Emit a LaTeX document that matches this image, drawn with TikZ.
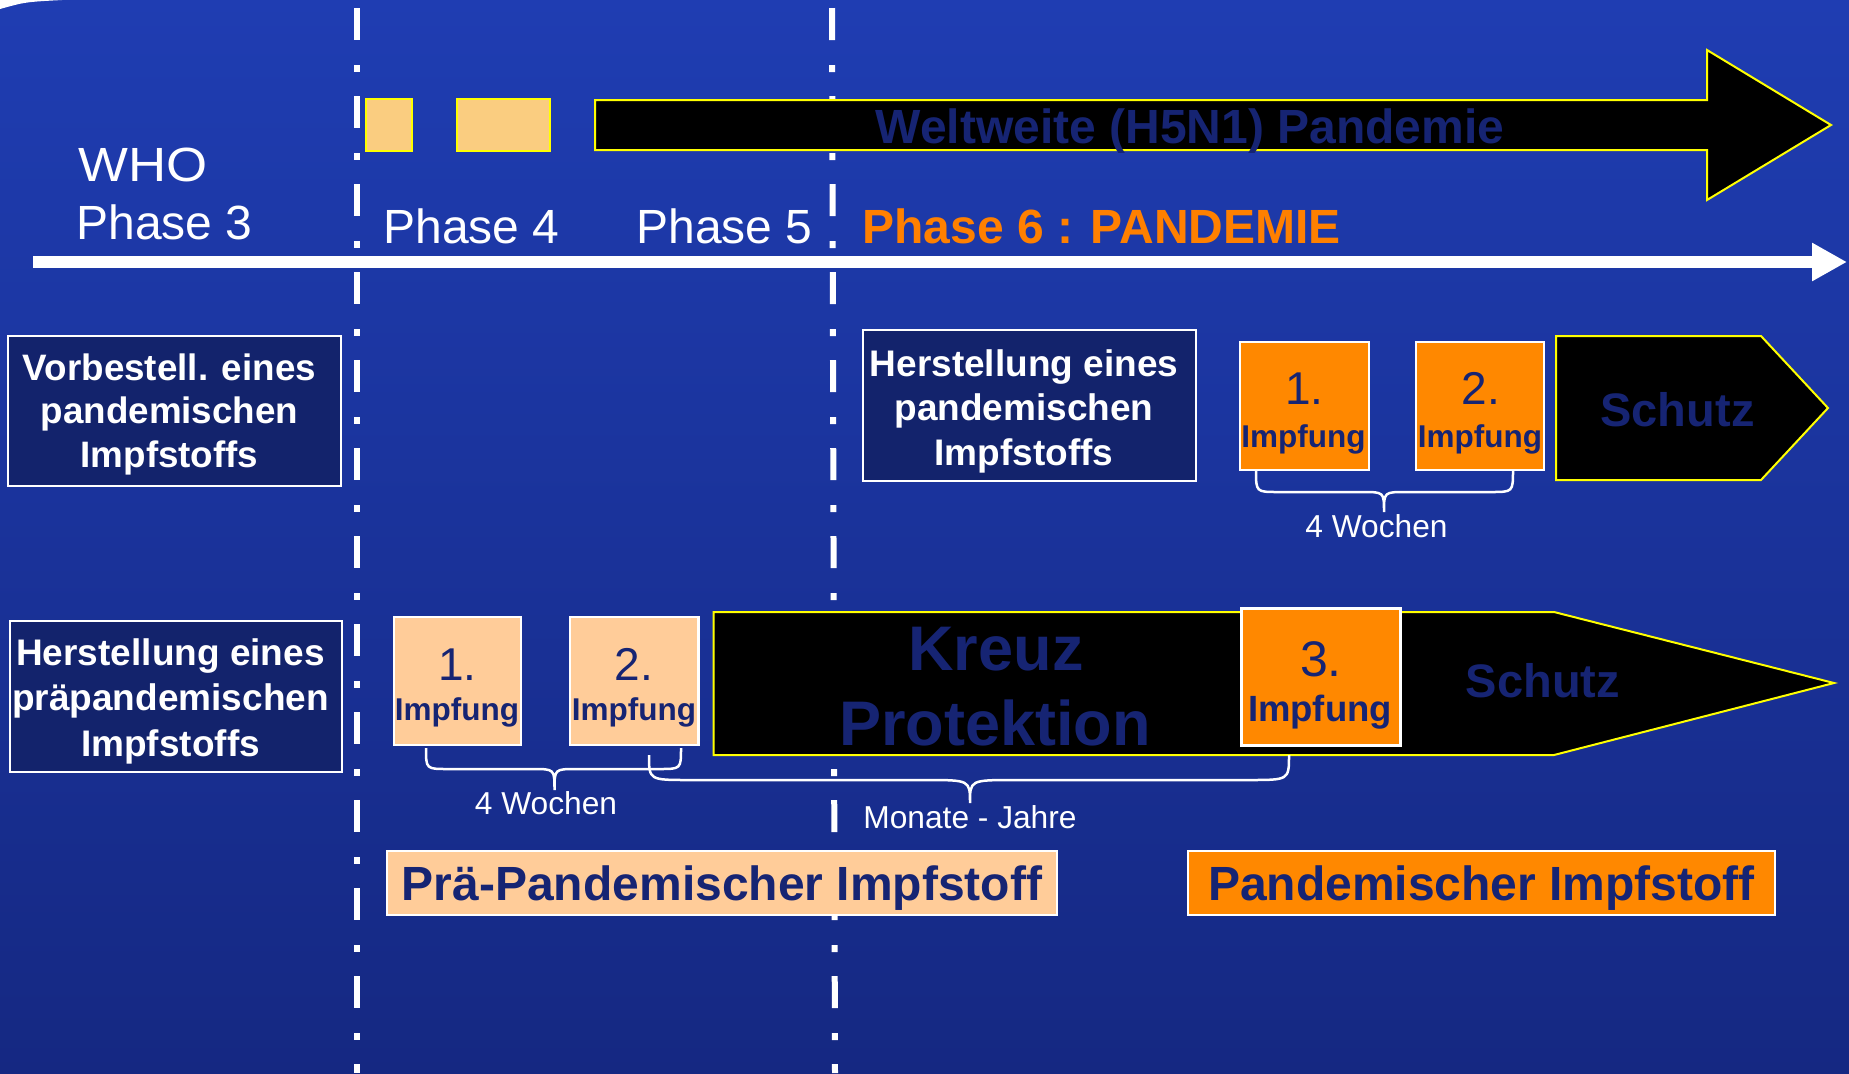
\documentclass[tikz,border=0pt]{standalone}
\usepackage{fontspec}
\setmainfont{Liberation Sans}
\usetikzlibrary{arrows.meta}

\definecolor{bgtop}{RGB}{31,61,178}
\definecolor{bgbot}{RGB}{21,40,130}
\definecolor{navybox}{RGB}{19,35,108}
\definecolor{navytext}{RGB}{22,36,115}
\definecolor{orng}{RGB}{255,136,0}
\definecolor{peach}{RGB}{255,204,153}
\definecolor{sand}{RGB}{250,205,128}
\definecolor{ylw}{RGB}{255,255,0}
\definecolor{phasesix}{RGB}{255,128,0}

\newcommand\fs[2]{\fontsize{#1}{#2}\selectfont}
% brace: L R top h tipx tipy rcorner rmiddle
\newcommand\brc[8]{%
  \draw[bracestyle] (#1,#3) .. controls (#1,#4) .. (#1+#7,#4) -- (#5-#8,#4)
    .. controls (#5,#4) .. (#5,#6) .. controls (#5,#4) .. (#5+#8,#4)
    -- (#2-#7,#4) .. controls (#2,#4) .. (#2,#3);}

\begin{document}
\begin{tikzpicture}[x=0.5pt,y=-0.5pt,
  dashline/.style={white, line width=3pt, dash pattern=on 16pt off 12.5pt on 3.5pt off 12pt},
  navy/.style={draw=white, line width=1pt, fill=navybox, inner sep=0pt},
  navytxt/.style={text=white, align=center, inner sep=0pt},
  orbox/.style={draw=white, line width=1.25pt, fill=orng, inner sep=0pt},
  pebox/.style={draw=white, line width=1.25pt, fill=peach, inner sep=0pt},
  sandbox/.style={draw=ylw, line width=1pt, fill=sand, inner sep=0pt},
  blackarrow/.style={draw=ylw, line width=1pt, fill=black, line join=miter},
  bracestyle/.style={white, line width=1.25pt},
  lbl/.style={inner sep=0pt, anchor=base},
  lblw/.style={inner sep=0pt, anchor=base west},
  numfont/.style={text=navytext, font=\fs{23}{26}},
  impf/.style={text=navytext, font=\bfseries\fs{15.75}{18}},
  big/.style={text=navytext, font=\bfseries\fs{24}{28}},
  wlabel/.style={text=white, font=\fs{15.85}{18}},
  bottombox/.style={draw=white, line width=1.25pt, inner sep=0pt, minimum height=32pt,
    text=navytext, font=\bfseries\fs{24}{28}, text height=18pt, text depth=1pt}
]
\useasboundingbox (0,0) rectangle (1849,1073);
\shade[top color=bgtop, bottom color=bgbot] (0,0) rectangle (1849,1073);
\fill[white] (0,0) -- (62,0) .. controls (25,2) .. (0,9) -- cycle;

% phase separators
\coordinate (d1a) at (357,8);
\coordinate (d1b) at (357,1073);
\coordinate (d2a) at (832,8);
\coordinate (d2b) at (835,1073);
\draw[dashline] (d1a) -- (d1b);
\draw[dashline] (d2a) -- (d2b);

% time axis
\coordinate (axL) at (33,262);
\coordinate (axR) at (1847,262);
\draw[white, line width=6pt, -{Triangle[length=17.5pt,width=18pt]}] (axL) -- (axR);

% phase labels
\node[lblw, text=white, font=\fs{24}{28}] (who) at (78,181) {\scalebox{1.1}[1]{WHO}};
\node[lblw, text=white, font=\fs{24}{28}] (ph3) at (76,239) {Phase 3};
\node[lblw, text=white, font=\fs{24}{28}] (ph4) at (383,243) {Phase 4};
\node[lblw, text=white, font=\fs{24}{28}] (ph5) at (636,243) {Phase 5};
\node[lblw, text=phasesix, font=\bfseries\fs{24}{28}] (ph6) at (862,243) {Phase 6 : PANDEMIE};

% top pandemic arrow
\node[sandbox, minimum width=23pt, minimum height=26pt] (s1) at (389,125) {};
\node[sandbox, minimum width=46.5pt, minimum height=26pt] (s2) at (503.5,125) {};
\draw[blackarrow] (595,100) -- (1707,100) -- (1707,50) -- (1831,125) -- (1707,200)
  -- (1707,150) -- (595,150) -- cycle;
\node[lbl, big] (welt) at (1190,143) {Weltweite (H5N1) Pandemie};

% left boxes
\node[navy, minimum width=166.5pt, minimum height=75pt] (vorb) at (174.5,411) {};
\node[navytxt, font=\bfseries\fs{18.4}{21.75}] (vorbt) at (169.5,414)
  {Vorbestell. eines\\pandemischen\\Impfstoffs};
\node[navy, minimum width=166pt, minimum height=75.5pt] (herpre) at (176,696.5) {};
\node[navytxt, font=\bfseries\fs{18.5}{22.75}] (herpret) at (170.5,701)
  {Herstellung eines\\präpandemischen\\Impfstoffs};

% upper row (pandemic vaccine)
\node[navy, minimum width=166.5pt, minimum height=75.5pt] (herpan) at (1029.5,405.5) {};
\node[navytxt, font=\bfseries\fs{18.5}{22.25}] (herpant) at (1024,411)
  {Herstellung eines\\pandemischen\\Impfstoffs};
\node[orbox, minimum width=64.5pt, minimum height=64pt] (o1) at (1304.5,406) {};
\node[orbox, minimum width=64pt, minimum height=64pt] (o2) at (1480,406) {};
\node[lbl, numfont] (o1n) at (1304.5,404) {1.};
\node[lbl, impf] (o1i) at (1303.5,447) {Impfung};
\node[lbl, numfont] (o2n) at (1481,404) {2.};
\node[lbl, impf] (o2i) at (1480,447) {Impfung};
\draw[blackarrow] (1556,336) -- (1761,336) -- (1828,408) -- (1761,480) -- (1556,480) -- cycle;
\node[lbl, text=navytext, font=\bfseries\fs{23.5}{28}] (schutz1) at (1677.5,426) {Schutz};
\brc{1256}{1513}{470}{492}{1384}{512}{22}{22}
\node[lbl, wlabel] (w1) at (1376.5,537) {4 Wochen};

% lower row (pre-pandemic vaccine)
\node[pebox, minimum width=63.5pt, minimum height=64pt] (p1) at (457.5,681) {};
\node[pebox, minimum width=64.25pt, minimum height=64pt] (p2) at (634,681) {};
\node[lbl, numfont] (p1n) at (457.5,680) {1.};
\node[lbl, impf] (p1i) at (457,720) {Impfung};
\node[lbl, numfont] (p2n) at (634,680) {2.};
\node[lbl, impf] (p2i) at (634,720) {Impfung};
\draw[blackarrow] (713.5,612) -- (1554,612) -- (1834,683) -- (1554,755) -- (713.5,755) -- cycle;
\node[lbl, text=navytext, font=\bfseries\fs{31.5}{37.5}] (kreuz) at (996,670) {Kreuz};
\node[lbl, text=navytext, font=\bfseries\fs{31.5}{37.5}] (prot) at (995,745) {Protektion};
\node[orbox, minimum width=79.5pt, minimum height=68.5pt] (o3) at (1321,677) {};
\node[lbl, text=navytext, font=\fs{25}{28}] (o3n) at (1321,676) {3.};
\node[lbl, text=navytext, font=\bfseries\fs{18.25}{21}] (o3i) at (1320,721) {Impfung};
\node[lbl, text=navytext, font=\bfseries\fs{23.5}{28}] (schutz2) at (1543,697) {Schutz};

\brc{426}{681}{748}{769}{554.5}{790}{22}{22}
\brc{649}{1289}{755}{780}{970}{803}{40}{45}
\node[lbl, wlabel] (w2) at (546,814) {4 Wochen};
\node[lbl, wlabel] (mj) at (970,828) {Monate - Jahre};

% bottom legend boxes
\node[bottombox, fill=peach, minimum width=335pt] (pre) at (722,883) {Prä-Pandemischer Impfstoff};
\node[bottombox, fill=orng, minimum width=293.5pt] (pan) at (1481.5,883) {Pandemischer Impfstoff};
\end{tikzpicture}
\end{document}
